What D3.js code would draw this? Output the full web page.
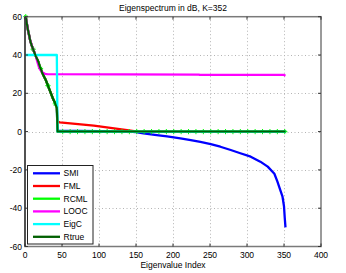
<!DOCTYPE html>
<html>
<head>
<meta charset="utf-8">
<script src="https://cdn.jsdelivr.net/npm/d3@7"></script>
<style>
  body { margin: 0; background: #fff; }
  text { font-family: "Liberation Sans", Arial, sans-serif; fill: #000; }
</style>
</head>
<body>
<script>
// chart values
var v_Title   = "Eigenspectrum in dB, K=352";
var v_XLabel  = "Eigenvalue Index";
var v_XTicks  = [0, 50, 100, 150, 200, 250, 300, 350, 400];
var v_YTicks  = [-60, -40, -20, 0, 20, 40, 60];
var v_Names   = ["SMI", "FML", "RCML", "LOOC", "EigC", "Rtrue"];
var v_Colors  = ["#0000ff", "#ff0000", "#00ff00", "#ff00ff", "#00ffff", "#005f00"];

// signal part of the true spectrum (index, dB)
var v_RtrueTop = [[1,60],[2,57.5],[4,53],[6,49.5],[7,47.5],[9,45],[11,43],[13,41],[15,39],
                  [18,36.5],[20,34],[23,31],[26,28.5],[28,27],[30,25],[32,23],[34,21],
                  [36,19],[38,17],[40,15.5],[42,13.5],[43,12.5]];
var v_RtrueTail = [[44,0],[352,0]];

var v_SMITail   = [[44,0.5],[100,0.3],[140,0],[150,-0.3],[160,-0.9],[178,-1.8],[192,-2.5],
                   [210,-3.5],[224,-4.4],[237,-5.4],[251,-6.5],[264,-7.9],[278,-9.6],
                   [291,-11.3],[305,-13.1],[318,-15.7],[328,-18.3],[337,-22],[341,-26],
                   [345,-30.5],[348,-34],[350,-39],[351,-45],[352,-50]];
var v_FMLTail   = [[44,5.3],[47,4.8],[93,3.1],[138,0.8],[152,0],[352,0]];
var v_LOOCTop   = [[1,60],[4,53],[7,47.5],[11,43],[15,39],[17,36],[19,33.5],[21,32],
                   [24,30.8],[27,30.2],[30,30],[235,29.8],[236,29.6],[350,29.6],[352,29.2]];
var v_EigC      = [[1,40],[43,40],[44,0],[352,0]];
var v_RCMLTail  = [[44,0],[352,0]];
var v_RCMLMarks = [[1,60],[11,43],[21,33],[31,24],[41,14.5],[51,0],[61,0],[71,0],[81,0],[91,0],
                   [101,0],[111,0],[121,0],[131,0],[141,0],[151,0],[161,0],[171,0],[181,0],
                   [191,0],[201,0],[211,0],[221,0],[231,0],[241,0],[251,0],[261,0],[271,0],
                   [281,0],[291,0],[301,0],[311,0],[321,0],[331,0],[341,0],[351,0]];

var v_Series = [
    v_RtrueTop.concat(v_SMITail),
    v_RtrueTop.concat(v_FMLTail),
    v_RtrueTop.concat(v_RCMLTail),
    v_LOOCTop,
    v_EigC,
    v_RtrueTop.concat(v_RtrueTail)
];


var v_W = 346, v_H = 273;
var v_Left = 25, v_Right = 321, v_Top = 16.7, v_Bottom = 246.5;

var v_SVG = d3.select("body").append("svg")
    .attr("width", v_W)
    .attr("height", v_H);

v_SVG.append("rect").attr("width", v_W).attr("height", v_H).attr("fill", "#fff");

var v_X = d3.scaleLinear().domain([0, 400]).range([v_Left, v_Right]);
var v_Y = d3.scaleLinear().domain([-60, 60]).range([v_Bottom, v_Top]);

// grid
var v_Grid = v_SVG.append("g")
    .attr("stroke", "#b4b4b4")
    .attr("stroke-width", 1)
    .attr("stroke-dasharray", "1,2.5");

v_Grid.selectAll(".gx").data(v_XTicks.slice(1, -1)).enter().append("line")
    .attr("x1", d => Math.round(v_X(d)) + 0.5).attr("x2", d => Math.round(v_X(d)) + 0.5)
    .attr("y1", v_Top).attr("y2", v_Bottom);

v_Grid.selectAll(".gy").data(v_YTicks.slice(1, -1)).enter().append("line")
    .attr("y1", d => Math.round(v_Y(d)) + 0.5).attr("y2", d => Math.round(v_Y(d)) + 0.5)
    .attr("x1", v_Left).attr("x2", v_Right);

// series
var v_Line = d3.line().x(d => v_X(d[0])).y(d => v_Y(d[1]));

var v_Plot = v_SVG.append("g");
for (let x = 0; x < v_Series.length; x++)
{
    v_Plot.append("path")
        .attr("d", v_Line(v_Series[x]))
        .attr("fill", "none")
        .attr("stroke", v_Colors[x])
        .attr("stroke-width", v_Names[x] == "Rtrue" ? 2 : 2.3)
        .attr("stroke-linejoin", "round");

    // RCML star markers go right after its line, under LOOC/EigC/Rtrue
    if ( v_Names[x] == "RCML" )
    {
        let v_Mk = v_Plot.append("g").attr("stroke", v_Colors[x]).attr("stroke-width", 1);
        v_RCMLMarks.forEach(function (d)
        {
            let cx = v_X(d[0]), cy = v_Y(d[1]), r = 2.6;
            v_Mk.append("line").attr("x1", cx - r).attr("x2", cx + r).attr("y1", cy).attr("y2", cy);
            v_Mk.append("line").attr("x1", cx).attr("x2", cx).attr("y1", cy - r).attr("y2", cy + r);
            v_Mk.append("line").attr("x1", cx - 1.5).attr("x2", cx + 1.5).attr("y1", cy - 1.5).attr("y2", cy + 1.5);
            v_Mk.append("line").attr("x1", cx - 1.5).attr("x2", cx + 1.5).attr("y1", cy + 1.5).attr("y2", cy - 1.5);
        });
    }
}

// frame
v_SVG.append("rect")
    .attr("x", v_Left).attr("y", v_Top)
    .attr("width", v_Right - v_Left).attr("height", v_Bottom - v_Top)
    .attr("fill", "none").attr("stroke", "#7a7a7a").attr("stroke-width", 1.5);
v_SVG.append("line")
    .attr("x1", v_Left).attr("x2", v_Left).attr("y1", v_Top).attr("y2", v_Bottom)
    .attr("stroke", "#222").attr("stroke-width", 1.2);

// ticks (inward, all four sides)
var v_Ticks = v_SVG.append("g").attr("stroke", "#333").attr("stroke-width", 1);
v_XTicks.forEach(function (d)
{
    let px = v_X(d);
    v_Ticks.append("line").attr("x1", px).attr("x2", px).attr("y1", v_Bottom).attr("y2", v_Bottom - 3);
    v_Ticks.append("line").attr("x1", px).attr("x2", px).attr("y1", v_Top).attr("y2", v_Top + 3);
});
v_YTicks.forEach(function (d)
{
    let py = v_Y(d);
    v_Ticks.append("line").attr("x1", v_Left).attr("x2", v_Left + 3).attr("y1", py).attr("y2", py);
    v_Ticks.append("line").attr("x1", v_Right).attr("x2", v_Right - 3).attr("y1", py).attr("y2", py);
});

// tick labels
v_SVG.selectAll(".xl").data(v_XTicks).enter().append("text")
    .attr("x", d => v_X(d)).attr("y", 257.5)
    .attr("text-anchor", "middle").attr("font-size", 8.5)
    .text(d => d);

v_SVG.selectAll(".yl").data(v_YTicks).enter().append("text")
    .attr("x", 22).attr("y", d => v_Y(d) + 3)
    .attr("text-anchor", "end").attr("font-size", 8.5)
    .text(d => d);

// title and axis label
v_SVG.append("text")
    .attr("x", (v_Left + v_Right) / 2).attr("y", 11)
    .attr("text-anchor", "middle").attr("font-size", 8.5)
    .text(v_Title);

v_SVG.append("text")
    .attr("x", (v_Left + v_Right) / 2).attr("y", 268)
    .attr("text-anchor", "middle").attr("font-size", 8.5)
    .text(v_XLabel);

// legend
var v_Legend = v_SVG.append("g");
v_Legend.append("rect")
    .attr("x", 27.5).attr("y", 165.5).attr("width", 65.5).attr("height", 78.5)
    .attr("fill", "#fff").attr("stroke", "#222").attr("stroke-width", 1);

for (let x = 0; x < v_Names.length; x++)
{
    let py = 173.3 + x * 12.7;
    v_Legend.append("line")
        .attr("x1", 33).attr("x2", 60).attr("y1", py).attr("y2", py)
        .attr("stroke", v_Colors[x]).attr("stroke-width", 2.3);
    v_Legend.append("text")
        .attr("x", 63.5).attr("y", py + 3)
        .attr("font-size", 8.5)
        .text(v_Names[x]);
}
</script>
</body>
</html>
